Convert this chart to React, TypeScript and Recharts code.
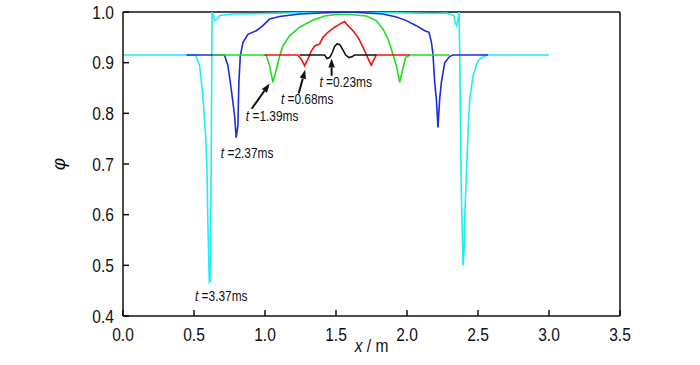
import React from 'react';
import { LineChart, Line, XAxis, YAxis, ReferenceLine, ReferenceDot, Label } from 'recharts';

const FONT = "'Liberation Sans', Arial, sans-serif";
const NARROW = 0.82;

const xTicks = [0, 0.5, 1.0, 1.5, 2.0, 2.5, 3.0, 3.5];
const yTicks = [0.4, 0.5, 0.6, 0.7, 0.8, 0.9, 1.0];

// t = 3.37 ms
const cyanPts: [number, number][] = [
  [0, 0.915], [0.51, 0.915], [0.525, 0.905], [0.54, 0.894], [0.562, 0.834], [0.581, 0.762],
  [0.591, 0.696], [0.598, 0.58], [0.608, 0.467], [0.615, 0.47], [0.622, 0.75], [0.627, 1.0],
  [0.635, 0.995], [0.645, 0.983], [0.66, 0.985], [0.68, 0.993], [0.77, 0.996], [1.0, 0.997],
  [1.3, 0.999], [1.5, 1.0], [1.8, 0.999], [2.0, 0.998], [2.2, 0.997], [2.278, 0.998],
  [2.33, 0.993], [2.338, 0.98], [2.348, 0.973], [2.36, 0.986], [2.366, 1.0], [2.372, 0.9],
  [2.382, 0.65], [2.395, 0.5], [2.402, 0.53], [2.407, 0.6], [2.418, 0.68], [2.43, 0.762],
  [2.442, 0.828], [2.465, 0.874], [2.49, 0.897], [2.512, 0.907], [2.56, 0.915], [3.0, 0.915],
];

// t = 2.37 ms
const bluePts: [number, number][] = [
  [0.447, 0.915], [0.715, 0.915], [0.739, 0.894], [0.762, 0.848], [0.786, 0.795], [0.797, 0.752],
  [0.809, 0.775], [0.816, 0.861], [0.826, 0.913], [0.845, 0.94], [0.88, 0.956], [0.939, 0.963],
  [0.985, 0.973], [1.032, 0.986], [1.103, 0.991], [1.244, 0.996], [1.476, 0.999], [1.596, 1.0],
  [1.714, 0.998], [1.831, 0.996], [1.925, 0.99], [1.996, 0.983], [2.066, 0.973], [2.125, 0.963],
  [2.155, 0.96], [2.172, 0.94], [2.183, 0.917], [2.195, 0.861], [2.207, 0.828], [2.218, 0.772],
  [2.23, 0.828], [2.242, 0.861], [2.266, 0.9], [2.3, 0.912], [2.324, 0.915], [2.571, 0.915],
];

// t = 1.39 ms
const greenPts: [number, number][] = [
  [0.633, 0.915], [1.009, 0.915], [1.032, 0.894], [1.056, 0.861], [1.075, 0.881], [1.103, 0.913],
  [1.126, 0.933], [1.173, 0.953], [1.244, 0.97], [1.338, 0.984], [1.42, 0.992], [1.5, 0.995],
  [1.596, 0.995], [1.714, 0.992], [1.784, 0.983], [1.831, 0.966], [1.866, 0.947], [1.897, 0.92],
  [1.925, 0.894], [1.949, 0.861], [1.967, 0.884], [1.99, 0.91], [2.019, 0.915], [2.3, 0.915],
];

// t = 0.68 ms
const redPts: [number, number][] = [
  [0.997, 0.915], [1.232, 0.915], [1.256, 0.907], [1.279, 0.894], [1.302, 0.907], [1.326, 0.923],
  [1.35, 0.933], [1.385, 0.937], [1.408, 0.95], [1.443, 0.96], [1.49, 0.97], [1.526, 0.976],
  [1.561, 0.981], [1.584, 0.973], [1.62, 0.963], [1.655, 0.95], [1.679, 0.937], [1.702, 0.923],
  [1.732, 0.904], [1.749, 0.895], [1.768, 0.907], [1.784, 0.915], [2.019, 0.915],
];

// t = 0.23 ms
const blackPts: [number, number][] = [
  [1.244, 0.915], [1.42, 0.915], [1.436, 0.908], [1.455, 0.91], [1.474, 0.92], [1.49, 0.932],
  [1.507, 0.937], [1.526, 0.936], [1.545, 0.927], [1.568, 0.915], [1.591, 0.91], [1.615, 0.912],
  [1.631, 0.915], [1.784, 0.915],
];

const seriesNames = ['t=3.37ms', 't=2.37ms', 't=1.39ms', 't=0.68ms', 't=0.23ms'];
const seriesColors = ['#1ceef4', '#1f2bd8', '#22dd22', '#f21212', '#111111'];
const seriesPts = [cyanPts, bluePts, greenPts, redPts, blackPts];

// annotation labels: [x, y, text]
const labelItems: [number, number, string][] = [
  [1.568, 0.852, '0.23ms'],
  [1.297, 0.819, '0.68ms'],
  [1.05, 0.785, '1.39ms'],
  [0.874, 0.712, '2.37ms'],
  [0.692, 0.43, '3.37ms'],
];

// arrows: [tailX, tailY, tipX, tipY]
const arrowItems: [number, number, number, number][] = [
  [1.469, 0.874, 1.469, 0.908],
  [1.237, 0.839, 1.283, 0.886],
  [0.906, 0.809, 1.033, 0.859],
];

const toData = (pts: [number, number][]) => pts.map(([x, y]) => ({ x, y }));

const NText = ({ x, y, anchor, size, dy, children }: any) => (
  <text
    transform={`translate(${x},${y}) scale(${NARROW},1)`}
    x={0}
    y={0}
    dy={dy}
    textAnchor={anchor}
    fontFamily={FONT}
    fontSize={size}
    fill="#111"
  >
    {children}
  </text>
);

const XTick = (props: any) => {
  const { x, y, payload } = props;
  return (
    <NText x={x} y={y} anchor="middle" size={19} dy="0.71em">
      {Number(payload.value).toFixed(1)}
    </NText>
  );
};

const YTick = (props: any) => {
  const { x, y, payload } = props;
  return (
    <NText x={x} y={y} anchor="end" size={19} dy="0.355em">
      {Number(payload.value).toFixed(1)}
    </NText>
  );
};

const ArrowShape = (props: any) => {
  const { x1, y1, x2, y2 } = props;
  const dx = x2 - x1;
  const dy = y2 - y1;
  const len = Math.sqrt(dx * dx + dy * dy) || 1;
  const ux = dx / len;
  const uy = dy / len;
  const hl = 9;
  const hw = 3.2;
  const bx = x2 - ux * hl;
  const by = y2 - uy * hl;
  const pts = `${x2},${y2} ${bx - uy * hw},${by + ux * hw} ${bx + uy * hw},${by - ux * hw}`;
  return (
    <g>
      <line x1={x1} y1={y1} x2={bx} y2={by} stroke="#111" strokeWidth={2} />
      <polygon points={pts} fill="#111" />
    </g>
  );
};

const makeLabelShape = (text: string) => (props: any) => {
  const { cx, cy } = props;
  return (
    <NText x={cx} y={cy} anchor="middle" size={14.5}>
      <tspan fontStyle="italic">t</tspan>
      {' =' + text}
    </NText>
  );
};

const XLabel = (props: any) => {
  const { viewBox } = props;
  const cx = viewBox.x + viewBox.width / 2;
  const cy = viewBox.y + 36;
  return (
    <NText x={cx} y={cy} anchor="middle" size={19}>
      <tspan fontStyle="italic">x</tspan>
      {' / m'}
    </NText>
  );
};

const YLabel = (props: any) => {
  const { viewBox } = props;
  const cx = 58;
  const cy = viewBox.y + viewBox.height / 2;
  return (
    <text
      x={cx}
      y={cy}
      transform={`rotate(-90, ${cx}, ${cy})`}
      textAnchor="middle"
      dominantBaseline="central"
      fontFamily={FONT}
      fontStyle="italic"
      fontSize={19}
      fill="#111"
    >
      φ
    </text>
  );
};

export default function App() {
  return (
    <div style={{ position: 'absolute', left: 0, top: 0, background: '#fff' }}>
      <LineChart width={700} height={365} margin={{ top: 12, right: 80, left: 0, bottom: 0 }}>
        <XAxis
          type="number"
          dataKey="x"
          domain={[0, 3.5]}
          ticks={xTicks}
          allowDataOverflow
          height={49}
          tick={<XTick />}
          tickSize={-6}
          tickMargin={18}
          axisLine={{ stroke: '#111', strokeWidth: 1.5 }}
          tickLine={{ stroke: '#111', strokeWidth: 1.5 }}
        >
          <Label content={<XLabel />} />
        </XAxis>
        <YAxis
          type="number"
          dataKey="y"
          domain={[0.4, 1.0]}
          ticks={yTicks}
          allowDataOverflow
          width={123}
          tick={<YTick />}
          tickSize={-6}
          tickMargin={15}
          axisLine={{ stroke: '#111', strokeWidth: 1.5 }}
          tickLine={{ stroke: '#111', strokeWidth: 1.5 }}
        >
          <Label content={<YLabel />} />
        </YAxis>
        <ReferenceLine y={1.0} stroke="#111" strokeWidth={1.5} />
        <ReferenceLine x={3.5} stroke="#111" strokeWidth={1.5} />
        {seriesPts.map((pts, i) => (
          <Line
            key={seriesNames[i]}
            name={seriesNames[i]}
            data={toData(pts)}
            dataKey="y"
            type="linear"
            stroke={seriesColors[i]}
            strokeWidth={1.6}
            dot={false}
            activeDot={false}
            isAnimationActive={false}
          />
        ))}
        {arrowItems.map((a, i) => (
          <ReferenceLine
            key={'arrow' + i}
            segment={[{ x: a[0], y: a[1] }, { x: a[2], y: a[3] }]}
            shape={<ArrowShape />}
          />
        ))}
        {labelItems.map((l, i) => (
          <ReferenceDot key={'lab' + i} x={l[0]} y={l[1]} r={0} shape={makeLabelShape(l[2])} />
        ))}
      </LineChart>
    </div>
  );
}
